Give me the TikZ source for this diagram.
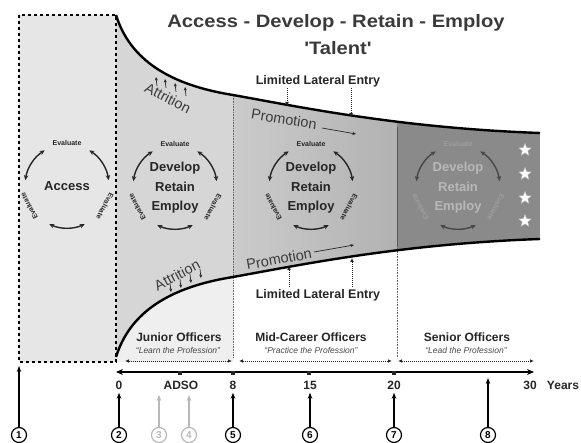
\documentclass[tikz,border=0pt]{standalone}
\usepackage{fontspec}
\setmainfont{Liberation Sans}
\usetikzlibrary{arrows.meta,shapes.geometric}
\definecolor{ink}{HTML}{262626}
\definecolor{titlec}{HTML}{3A3A3A}
\definecolor{boxfill}{HTML}{E6E6E6}
\definecolor{lightfill}{HTML}{EFEFEF}
\definecolor{fa}{HTML}{D6D6D6}
\definecolor{fba}{HTML}{CBCBCB}
\definecolor{fbb}{HTML}{B2B2B2}
\definecolor{fc}{HTML}{8A8A8A}
\definecolor{softgray}{HTML}{B8B8B8}
\tikzset{
  cycarr/.style={line width=1.4pt,{Stealth[length=5pt,width=4.5pt]}-{Stealth[length=5pt,width=4.5pt]}},
  evalnode/.style={font=\fontsize{7}{8}\selectfont\bfseries,inner sep=0.5pt},
  dotbox/.style={line width=2.6pt,dash pattern=on 2.6pt off 3.4pt},
  vdots/.style={line width=0.6pt,draw=black!60,dash pattern=on 0.8pt off 0.8pt},
  funnelline/.style={line width=2.4pt,draw=black},
  ddarr/.style={line width=0.8pt,draw=ink,dash pattern=on 1pt off 1pt,{Latex[length=4pt,width=3.5pt]}-{Latex[length=4pt,width=3.5pt]}},
  ldarr/.style={line width=1pt,draw=ink,dash pattern=on 1pt off 1pt,-{Latex[length=4pt,width=4pt]}},
  smallarr/.style={line width=0.7pt,draw=ink,-{Stealth[length=3.5pt,width=3pt]}},
  upar/.style={line width=1.3pt,-{Stealth[length=6pt,width=4.5pt]}},
  cnum/.style={circle,draw,line width=1.2pt,inner sep=0pt,minimum size=15pt,font=\fontsize{10}{10}\selectfont\bfseries},
  numf/.style={font=\fontsize{12}{12}\selectfont\bfseries,text=ink},
  grpf/.style={font=\fontsize{12}{12}\selectfont\bfseries,text=ink},
  subf/.style={font=\fontsize{8.5}{9}\selectfont\itshape,text=ink!85},
  cyctext/.style={align=center,font=\fontsize{13}{19.5}\selectfont\bfseries},
  flowf/.style={font=\fontsize{14.5}{15}\selectfont,text=ink!90},
  latf/.style={font=\fontsize{12.5}{13}\selectfont\bfseries,text=ink},
  starnode/.style={star,star points=5,star point ratio=2.3,fill=white,draw=black!25,minimum size=13pt,inner sep=0pt}
}
\newcommand\cycdraw[5]{% name, x, y, arrow colour, label colour
\begin{scope}[shift={(#2,#3)}]
 \draw[cycarr,draw=#4] (172:42pt) arc[start angle=172,end angle=122,radius=42pt];
 \draw[cycarr,draw=#4] (58:42pt) arc[start angle=58,end angle=8,radius=42pt];
 \draw[cycarr,draw=#4] (-65:42pt) arc[start angle=-65,end angle=-115,radius=42pt];
 \node[evalnode,text=#5,rotate=0] (#1-e1) at (90:43pt) {Evaluate};
 \node[evalnode,text=#5,rotate=-118] (#1-e2) at (-28:43pt) {Evaluate};
 \node[evalnode,text=#5,rotate=118] (#1-e3) at (-152:43pt) {Evaluate};
\end{scope}}
\begin{document}
\begin{tikzpicture}[x=1pt,y=-1pt]
\useasboundingbox (0,0) rectangle (581,443);
% backgrounds
\fill[boxfill] (19,15) rectangle (116,362);
\fill[lightfill] (116,357) .. controls (130,312) and (170,287) .. (233,277) -- (233,362) -- (116,362) -- cycle;
\begin{scope}
 \clip (116,15) .. controls (130,60) and (170,85) .. (233,95) .. controls (300,107) and (400,128) .. (540,133) -- (540,239) .. controls (400,244) and (300,265) .. (233,277) .. controls (170,287) and (130,312) .. (116,357) -- cycle;
 \fill[fa] (116,0) rectangle (233,443);
 \shade[left color=fba,right color=fbb] (233,0) rectangle (397,443);
 \fill[fc] (397,0) rectangle (540,443);
\end{scope}
% vertical separators
\coordinate (v8a) at (233,96);
\coordinate (v8b) at (233,358);
\draw[vdots] (v8a) -- (v8b);
\coordinate (v20a) at (397,127);
\coordinate (v20b) at (397,246);
\coordinate (v20c) at (397,358);
\draw[line width=0.6pt,draw=black!65] (v20a) -- (v20b);
\draw[vdots] (v20b) -- (v20c);
% funnel curves
\draw[funnelline] (116,15) .. controls (130,60) and (170,85) .. (233,95) .. controls (300,107) and (400,128) .. (540,133);
\draw[funnelline] (116,357) .. controls (130,312) and (170,287) .. (233,277) .. controls (300,265) and (400,244) .. (540,239);
% dotted box
\draw[dotbox] (19,15) rectangle (116,362);
% title
\node[font=\fontsize{18}{20}\selectfont\bfseries,text=titlec] (title) at (336,23) {\scalebox{1.12}[1]{Access - Develop - Retain - Employ}};
\node[font=\fontsize{18}{20}\selectfont\bfseries,text=titlec] (talent) at (338,48) {\scalebox{1.12}[1]{\textquotesingle Talent\textquotesingle}};
% cycles
\cycdraw{cy1}{67}{186}{ink}{ink}
\node[font=\fontsize{13}{15}\selectfont\bfseries,text=ink] (acc) at (67,186) {Access};
\cycdraw{cy2}{175}{187}{ink}{ink}
\node[cyctext,text=ink] (c2) at (175,188) {Develop\\Retain\\Employ};
\cycdraw{cy3}{311}{187}{ink}{ink}
\node[cyctext,text=ink] (c3) at (311,188) {Develop\\Retain\\Employ};
\cycdraw{cy4}{458}{187}{black!72}{black!38}
\node[cyctext,text=softgray] (c4) at (458,188) {Develop\\Retain\\Employ};
% stars
\node[starnode] (s1) at (525,150) {};
\node[starnode] (s2) at (525,174) {};
\node[starnode] (s3) at (525,198) {};
\node[starnode] (s4) at (525,221) {};
% attrition
\node[flowf,rotate=-27] (att1) at (168,98) {Attrition};
\coordinate (a1s) at (157,86); \coordinate (a1e) at (156,77);
\coordinate (a2s) at (166,88); \coordinate (a2e) at (165,79);
\coordinate (a3s) at (176,92); \coordinate (a3e) at (175,83);
\coordinate (a4s) at (186,96); \coordinate (a4e) at (185,87);
\draw[smallarr] (a1s) -- (a1e);
\draw[smallarr] (a2s) -- (a2e);
\draw[smallarr] (a3s) -- (a3e);
\draw[smallarr] (a4s) -- (a4e);
\node[flowf,rotate=28] (att2) at (177,275) {Attrition};
\coordinate (b1s) at (170,283); \coordinate (b1e) at (171,292);
\coordinate (b2s) at (180,279); \coordinate (b2e) at (181,288);
\coordinate (b3s) at (190,274); \coordinate (b3e) at (191,283);
\coordinate (b4s) at (200,269); \coordinate (b4e) at (201,278);
\draw[smallarr] (b1s) -- (b1e);
\draw[smallarr] (b2s) -- (b2e);
\draw[smallarr] (b3s) -- (b3e);
\draw[smallarr] (b4s) -- (b4e);
% promotion
\node[flowf,rotate=-9] (pr1) at (284,119) {Promotion};
\coordinate (p1s) at (322,128); \coordinate (p1e) at (356,134);
\draw[smallarr] (p1s) -- (p1e);
\node[flowf,rotate=10] (pr2) at (279,259) {Promotion};
\coordinate (p2s) at (314,252); \coordinate (p2e) at (354,245);
\draw[smallarr] (p2s) -- (p2e);
% limited lateral entry
\node[latf] (lle1) at (318,81) {Limited Lateral Entry};
\coordinate (l1s) at (287,88); \coordinate (l1e) at (287,106);
\coordinate (l2s) at (351,88); \coordinate (l2e) at (351,117);
\draw[ldarr] (l1s) -- (l1e);
\draw[ldarr] (l2s) -- (l2e);
\node[latf] (lle2) at (318,295) {Limited Lateral Entry};
\coordinate (l3s) at (289,287); \coordinate (l3e) at (289,266);
\coordinate (l4s) at (352,287); \coordinate (l4e) at (352,258);
\draw[ldarr] (l3s) -- (l3e);
\draw[ldarr] (l4s) -- (l4e);
% career groups
\node[grpf] (jo) at (179,337) {Junior Officers};
\node[subf] (jos) at (178,350) {``Learn the Profession''};
\node[grpf] (mo) at (311,337) {Mid-Career Officers};
\node[subf] (mos) at (311,350) {``Practice the Profession''};
\node[grpf] (so) at (467,337) {Senior Officers};
\node[subf] (sos) at (466,350) {``Lead the Profession''};
\coordinate (d1a) at (125,361); \coordinate (d1b) at (232,361);
\coordinate (d2a) at (239,361); \coordinate (d2b) at (392,361);
\coordinate (d3a) at (398,361); \coordinate (d3b) at (534,361);
\draw[ddarr] (d1a) -- (d1b);
\draw[ddarr] (d2a) -- (d2b);
\draw[ddarr] (d3a) -- (d3b);
% axis
\coordinate (ax0) at (116,372);
\coordinate (ax1) at (534,372);
\draw[line width=1.4pt,{Stealth[length=7pt,width=6pt]}-{Stealth[length=7pt,width=6pt]}] (ax0) -- (ax1);
\fill[ink] (178,371) rectangle (182,375);
\fill[ink] (231,371) rectangle (235,375);
\fill[ink] (307,371) rectangle (311,375);
\fill[ink] (392,371) rectangle (396,375);
\node[numf] (y0) at (119,385) {0};
\node[numf] (adso) at (181,385) {ADSO};
\node[numf] (y8) at (233,385) {8};
\node[numf] (y15) at (310,385) {15};
\node[numf] (y20) at (394,385) {20};
\node[numf] (y30) at (530,385) {30};
\node[numf] (yrs) at (563,385) {Years};
% circled numbers
\node[cnum] (n1) at (19,435) {1};
\node[cnum] (n2) at (119,435) {2};
\node[cnum,draw=softgray,text=softgray] (n3) at (159,435) {3};
\node[cnum,draw=softgray,text=softgray] (n4) at (189,435) {4};
\node[cnum] (n5) at (233,435) {5};
\node[cnum] (n6) at (310,435) {6};
\node[cnum] (n7) at (394,435) {7};
\node[cnum] (n8) at (488,435) {8};
\coordinate (t1) at (19,366);
\coordinate (t3) at (159,395);
\coordinate (t4) at (189,395);
\coordinate (t8) at (488,378);
\draw[upar] (n1) -- (t1);
\draw[upar] (n2) -- (y0.south);
\draw[upar,draw=softgray] (n3) -- (t3);
\draw[upar,draw=softgray] (n4) -- (t4);
\draw[upar] (n5) -- (y8.south);
\draw[upar] (n6) -- (y15.south);
\draw[upar] (n7) -- (y20.south);
\draw[upar] (n8) -- (t8);
\end{tikzpicture}
\end{document}
